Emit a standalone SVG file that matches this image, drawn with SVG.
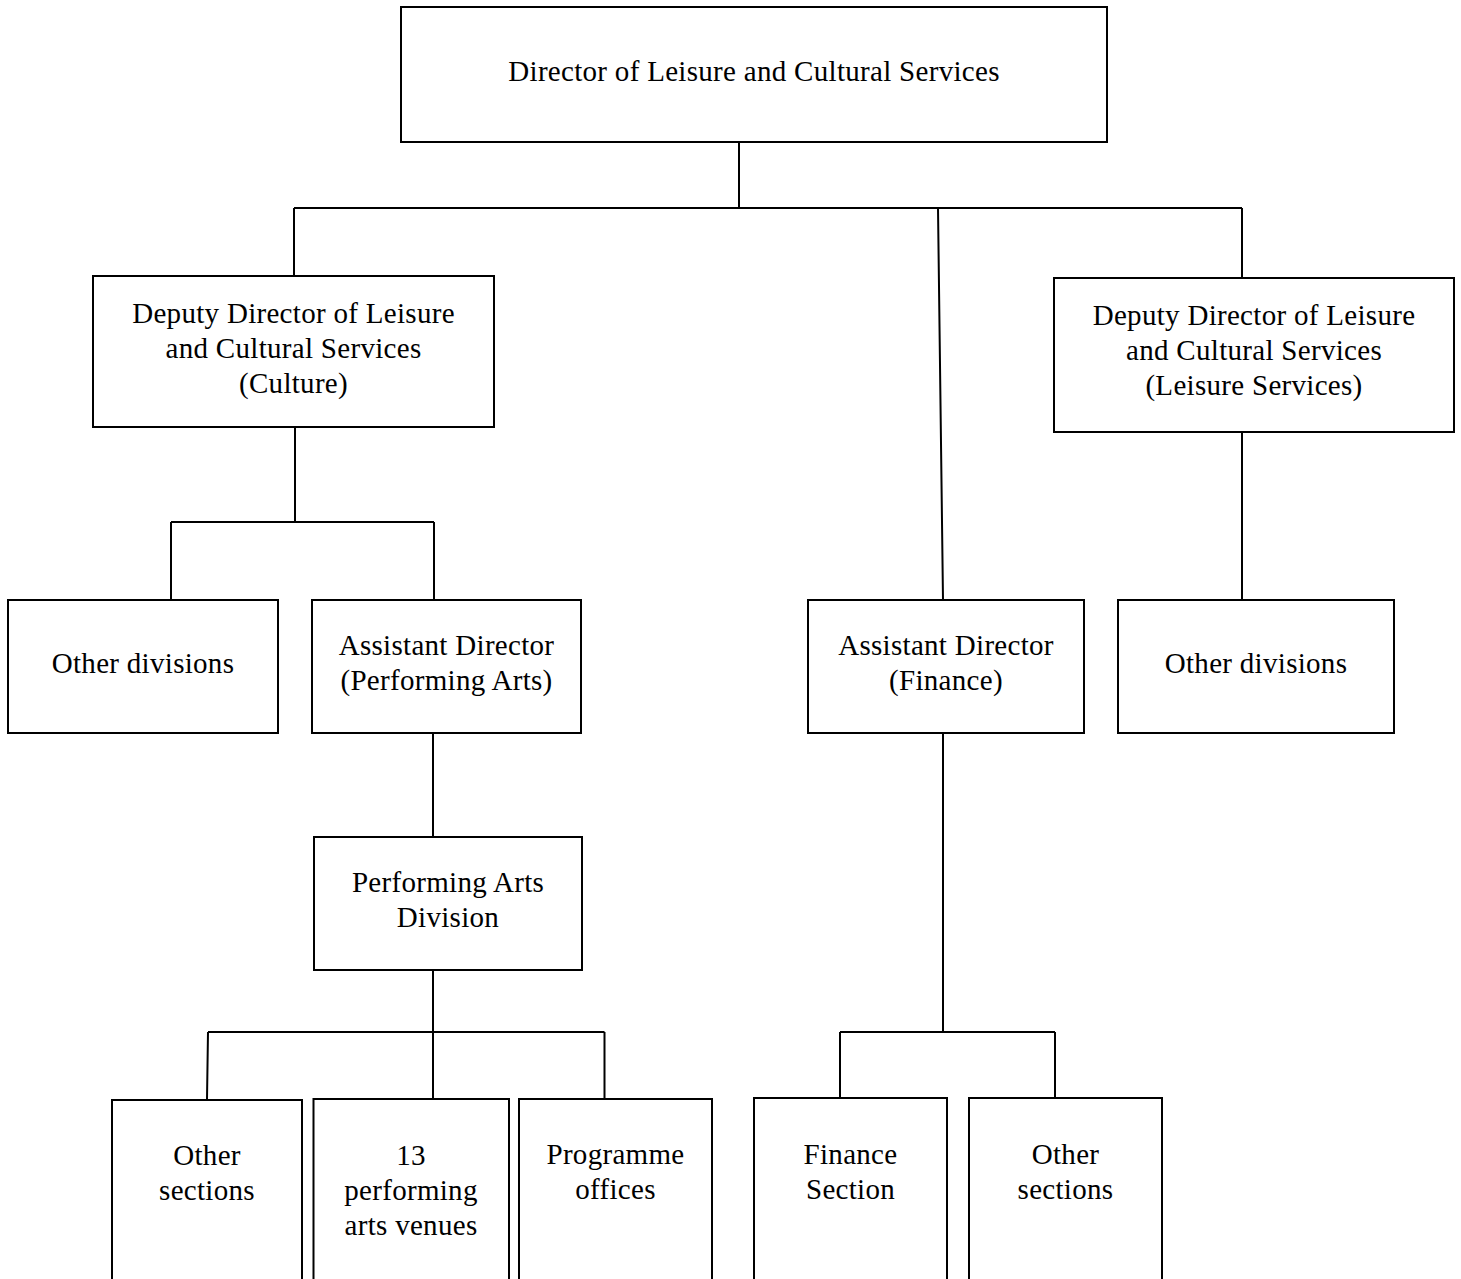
<svg xmlns="http://www.w3.org/2000/svg" width="1461" height="1279" viewBox="0 0 1461 1279">
<style>
.box{fill:#fff;stroke:#000;stroke-width:2}
.ln{fill:none;stroke:#000;stroke-width:2}
text{font-family:"Liberation Serif","Times New Roman",serif;font-size:29px;fill:#000;text-anchor:middle;letter-spacing:0.3px}
</style>
<rect width="1461" height="1279" fill="#fff"/>
<g id="connectors">
<path class="ln" d="M739,142 V208 M294,208 H1242 M294,208 V276 M1242,208 V278 M938,208 L943,600"/>
<path class="ln" d="M295,427 V522 M171,522 H434 M171,522 V600 M434,522 V600"/>
<path class="ln" d="M1242,432 V600"/>
<path class="ln" d="M433,733 V837"/>
<path class="ln" d="M433,970 V1032 M208,1032 H604.5 M208,1032 L207,1099 M433,1032 V1099 M604.5,1032 V1099"/>
<path class="ln" d="M943,733 V1032 M840,1032 H1055 M840,1032 V1098 M1055,1032 V1098"/>
</g>
<g id="director">
<rect class="box" x="401" y="7" width="706" height="135"/>
<text x="754" y="81">Director of Leisure and Cultural Services</text>
</g>
<g id="deputy-culture">
<rect class="box" x="93" y="276" width="401" height="151"/>
<text x="293.5" y="323">Deputy Director of Leisure</text>
<text x="293.5" y="358">and Cultural Services</text>
<text x="293.5" y="393">(Culture)</text>
</g>
<g id="deputy-leisure">
<rect class="box" x="1054" y="278" width="400" height="154"/>
<text x="1254" y="324.5">Deputy Director of Leisure</text>
<text x="1254" y="359.5">and Cultural Services</text>
<text x="1254" y="395">(Leisure Services)</text>
</g>
<g id="other-divisions-left">
<rect class="box" x="8" y="600" width="270" height="133"/>
<text x="143" y="673">Other divisions</text>
</g>
<g id="ad-performing-arts">
<rect class="box" x="312" y="600" width="269" height="133"/>
<text x="446.5" y="655">Assistant Director</text>
<text x="446.5" y="690">(Performing Arts)</text>
</g>
<g id="ad-finance">
<rect class="box" x="808" y="600" width="276" height="133"/>
<text x="946" y="655">Assistant Director</text>
<text x="946" y="690">(Finance)</text>
</g>
<g id="other-divisions-right">
<rect class="box" x="1118" y="600" width="276" height="133"/>
<text x="1256" y="673">Other divisions</text>
</g>
<g id="performing-arts-division">
<rect class="box" x="314" y="837" width="268" height="133"/>
<text x="448" y="891.5">Performing Arts</text>
<text x="448" y="926.5">Division</text>
</g>
<g id="other-sections-pa">
<rect class="box" x="112" y="1100" width="190" height="200"/>
<text x="207" y="1165">Other</text>
<text x="207" y="1200">sections</text>
</g>
<g id="venues">
<rect class="box" x="313.5" y="1099" width="195.5" height="200"/>
<text x="411" y="1165">13</text>
<text x="411" y="1200">performing</text>
<text x="411" y="1234.5">arts venues</text>
</g>
<g id="programme-offices">
<rect class="box" x="519" y="1099" width="193" height="200"/>
<text x="615.5" y="1164">Programme</text>
<text x="615.5" y="1199">offices</text>
</g>
<g id="finance-section">
<rect class="box" x="754" y="1098" width="193" height="200"/>
<text x="850.5" y="1164">Finance</text>
<text x="850.5" y="1199">Section</text>
</g>
<g id="other-sections-finance">
<rect class="box" x="969" y="1098" width="193" height="200"/>
<text x="1065.5" y="1164">Other</text>
<text x="1065.5" y="1199">sections</text>
</g>
</svg>
